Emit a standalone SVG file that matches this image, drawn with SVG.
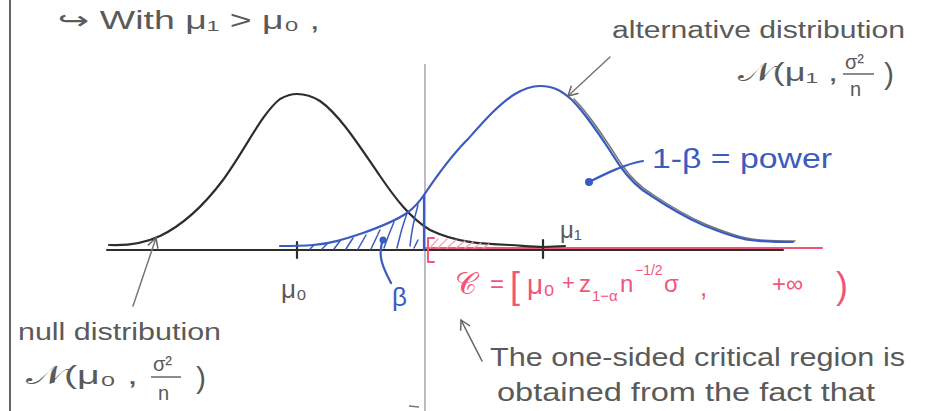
<svg xmlns="http://www.w3.org/2000/svg" width="939" height="411" viewBox="0 0 939 411">
<style>
.t{font-family:"Liberation Sans","DejaVu Sans",sans-serif;fill:#5a5a5a}
.b{fill:#3a5bbf}
.r{fill:#f2557a}
.ln{fill:none;stroke-linecap:round;stroke-linejoin:round}
.gray{stroke:#777;stroke-width:1.5}
.blk{stroke:#2d2d2d;stroke-width:2.2}
.blu{stroke:#3a5bbf;stroke-width:2.2}
.red{stroke:#f2557a;stroke-width:2}
.hb{stroke:#3a5bbf;stroke-width:1.5}
.hr{stroke:#f7a0b4;stroke-width:1.2}
</style>
<defs>
<marker id="ah" viewBox="0 0 12 12" refX="11" refY="6" markerWidth="12" markerHeight="12" orient="auto" markerUnits="userSpaceOnUse">
<path d="M2,1 L11,6 L2,11" fill="none" stroke="#666" stroke-width="1.5" stroke-linecap="round" stroke-linejoin="round"/>
</marker>
</defs>
<rect width="939" height="411" fill="#fff"/>
<g id="frame">
<line x1="10" y1="0" x2="10" y2="411" stroke="#666" stroke-width="2"/>
<line x1="425" y1="64" x2="425" y2="411" stroke="#999" stroke-width="1.3"/>
<line x1="409" y1="406" x2="419" y2="407" stroke="#777" stroke-width="1.5"/>
</g>
<g id="axis">
<line x1="107" y1="250" x2="783" y2="250" class="ln blk" stroke-width="2"/>
<line x1="424" y1="248" x2="822" y2="248" class="ln red"/>
<line x1="297" y1="242" x2="297" y2="258" class="ln blk"/>
<line x1="543" y1="240" x2="543" y2="258" class="ln blk"/>
</g>
<g id="null-curve">
<path class="ln blk" d="M109,245 C130,246 145,243 160,236 C185,224 205,204 223,180 C245,150 262,113 280,99 C287,95 292,94 297,94 C305,94 312,96 320,101 C340,115 360,147 380,176 C395,198 410,218 430,230 C455,242 480,244 510,245 C525,246 535,247 543,247 L565,246"/>
</g>
<g id="alt-curve">
<path class="ln gray" d="M574,99 C590,115 607,142 622,165 C632,179 640,187 652,194 C667,204 687,216 705,224 C722,231 737,237 752,239 C767,241 782,241 795,241"/>
<path class="ln blu" d="M280,246 C292,246 302,246 313,245 C330,244 345,239 363,233 C380,227 395,221 407,213 C415,207 420,201 424,195 C436,177 452,155 468,139 C485,120 500,103 515,94 C525,88 532,86 540,86 C555,86 563,92 572,100 C588,116 605,143 620,166 C630,180 638,188 650,195 C665,205 685,217 703,225 C720,232 735,238 750,240 C765,242 780,242 793,242"/>
<line x1="424" y1="195" x2="424" y2="250" class="ln blu"/>
</g>
<g id="beta-hatch">
<path class="ln hb" d="M310,249 L314,245 M322,249 L327,244 M334,249 L340,241 M346,249 L353,238 M358,249 L366,235 M371,249 L380,230 M384,248 Q388,236 394,222 M397,248 Q401,230 407,213 M410,246 Q412,226 418,205 M414,248 L418,240"/>
</g>
<g id="alpha-hatch">
<path class="ln hr" d="M430,248 L438,239 M438,248 L447,239 M447,248 L456,240 M456,248 L465,241 M465,248 L473,242 M474,248 L481,243 M483,248 L489,244"/>
<path class="ln red" d="M434,238 H428 V262 H434" stroke-width="1.8"/>
</g>
<g id="connectors">
<line x1="610" y1="57" x2="568" y2="96" class="ln gray" marker-end="url(#ah)"/>
<line x1="133" y1="306" x2="156" y2="238" class="ln gray" marker-end="url(#ah)"/>
<line x1="482" y1="361" x2="461" y2="320" class="ln" stroke="#666" stroke-width="1.6" marker-end="url(#ah)"/>
<circle cx="383" cy="240" r="3.5" fill="#3a5bbf"/>
<path class="ln blu" stroke-width="1.8" d="M383,240 C377,255 383,268 391,283"/>
<circle cx="589" cy="182" r="4" fill="#3a5bbf"/>
<path class="ln blu" stroke-width="1.8" d="M589,182 C605,174 625,164 643,161"/>
</g>
<g id="title">
<text class="t" x="58" y="29" font-size="25" textLength="262" lengthAdjust="spacingAndGlyphs">↪ With μ₁ &gt; μ₀ ,</text>
</g>
<g id="alt-label">
<text class="t" x="612" y="38" font-size="23" textLength="293" lengthAdjust="spacingAndGlyphs">alternative distribution</text>
<text class="t" x="738" y="81" font-size="26" textLength="100" lengthAdjust="spacingAndGlyphs">𝒩(μ₁ ,</text>
<text class="t" x="845" y="69" font-size="20">σ²</text>
<line x1="843" y1="74" x2="874" y2="74" stroke="#666" stroke-width="1.5"/>
<text class="t" x="850" y="96" font-size="20">n</text>
<text class="t" x="884" y="84" font-size="30">)</text>
</g>
<g id="null-label">
<text class="t" x="18" y="340" font-size="23" textLength="203" lengthAdjust="spacingAndGlyphs">null distribution</text>
<text class="t" x="26" y="384" font-size="26" textLength="112" lengthAdjust="spacingAndGlyphs">𝒩(μ₀ ,</text>
<text class="t" x="153" y="371" font-size="20">σ²</text>
<line x1="151" y1="377" x2="181" y2="377" stroke="#666" stroke-width="1.5"/>
<text class="t" x="158" y="400" font-size="20">n</text>
<text class="t" x="196" y="388" font-size="30">)</text>
</g>
<g id="mu-labels">
<text class="t" x="281" y="298" font-size="26">μ₀</text>
<text class="t" x="560" y="238" font-size="24">μ₁</text>
</g>
<g id="beta-label">
<text class="t b" x="392" y="306" font-size="26">β</text>
</g>
<g id="power-label">
<text class="t b" x="652" y="168" font-size="28" textLength="180" lengthAdjust="spacingAndGlyphs">1-β = power</text>
</g>
<g id="critical-region">
<text class="t r" x="455" y="294" font-size="30">𝒞</text>
<text class="t r" x="490" y="292" font-size="24">=</text>
<text class="t r" x="510" y="298" font-size="36">[</text>
<text class="t r" x="527" y="294" font-size="28">μ₀</text>
<text class="t r" x="562" y="290" font-size="22">+</text>
<text class="t r" x="579" y="292" font-size="24">z</text>
<text class="t r" x="592" y="301" font-size="15">1−α</text>
<text class="t r" x="620" y="292" font-size="24">n</text>
<text class="t r" x="635" y="275" font-size="14">−1/2</text>
<text class="t r" x="664" y="292" font-size="24">σ</text>
<text class="t r" x="700" y="296" font-size="26">,</text>
<text class="t r" x="772" y="292" font-size="24">+∞</text>
<text class="t r" x="836" y="298" font-size="36">)</text>
</g>
<g id="critical-note">
<text class="t" x="490" y="366" font-size="25" textLength="415" lengthAdjust="spacingAndGlyphs">The one-sided critical region is</text>
<text class="t" x="497" y="401" font-size="25" textLength="378" lengthAdjust="spacingAndGlyphs">obtained from the fact that</text>
</g>
</svg>
